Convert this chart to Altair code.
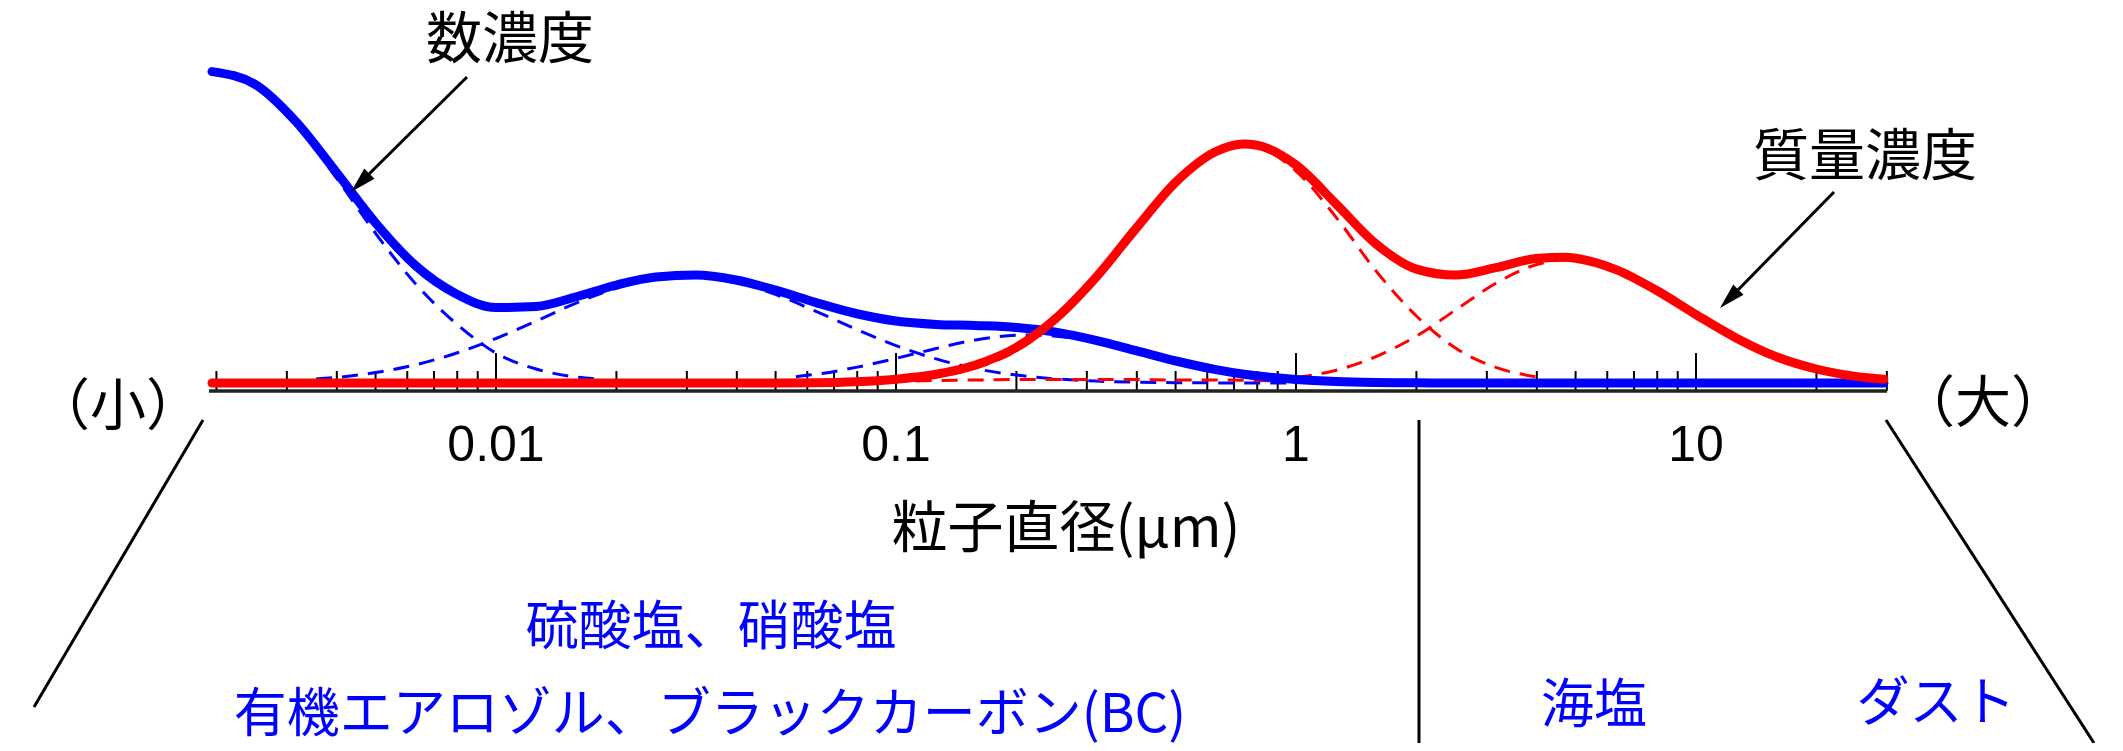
import altair as alt
import pandas as pd

CJK = "Noto Sans CJK JP"
LAT = "Liberation Sans"
BLUE = "#0000FF"
RED = "#FF0000"

# ---------------- data (diameter in um, relative concentration) ----------------
diam = [0.00195, 0.00251, 0.00316, 0.00398, 0.00501, 0.00631, 0.00794, 0.01, 0.0126, 0.0158,
        0.02, 0.0251, 0.0316, 0.0398, 0.0501, 0.0631, 0.0794, 0.1, 0.126, 0.158,
        0.2, 0.251, 0.316, 0.398, 0.501, 0.631, 0.741, 0.794, 1.0, 1.26,
        1.58, 2.0, 2.51, 3.16, 3.98, 4.73, 5.01, 6.31, 7.94, 10,
        12.6, 15.8, 20, 25.1, 29.5]
number_total = [311.4, 298.2, 261.5, 211.2, 159.7, 117.0, 89.3, 75.5, 76.5, 86.0,
                98.0, 106.0, 108.0, 103.0, 92.8, 80.4, 69.5, 62.0, 58.6, 57.5,
                55.6, 50.9, 42.7, 32.4, 22.0, 13.4, 8.8, 7.2, 3.5, 1.5,
                0.6, 0.2, 0, 0, 0, 0, 0, 0, 0, 0,
                0, 0, 0, 0, 0]
mass_total = [0, 0, 0, 0, 0, 0, 0, 0, 0, 0,
              0, 0, 0, 0, 0, 0.2, 1.2, 3.8, 8.7, 18.0,
              35.7, 64.6, 105.5, 154.5, 201.0, 231.5, 239.0, 238.0, 218.0, 179.0,
              139.5, 113.9, 107.9, 115.3, 124.5, 125.8, 124.7, 113.4, 93.0, 68.4,
              45.1, 26.6, 14.0, 6.6, 3.7]

# number-concentration modes (dashed blue)
nucl_d = [0.00195, 0.00251, 0.00316, 0.00398, 0.00501, 0.00631, 0.00794, 0.01, 0.0126, 0.0158, 0.0178]
nucl_v = [310.9, 297.0, 258.8, 205.7, 149.2, 98.7, 59.6, 30.0, 14.0, 6.0, 4.0]
aitk_d = [0.00355, 0.00398, 0.00501, 0.00631, 0.00794, 0.01, 0.0126, 0.0158, 0.02, 0.0251,
          0.0316, 0.0398, 0.0501, 0.0631, 0.0794, 0.1, 0.126, 0.158, 0.2, 0.251,
          0.316, 0.398, 0.501, 0.631, 0.794, 1.0]
aitk_v = [3.9, 5.5, 10.5, 18.3, 29.7, 44.5, 61.9, 79.6, 94.8, 104.6,
          106.9, 101.0, 88.4, 71.7, 53.9, 37.4, 24.1, 14.4, 7.9, 4.1,
          1.9, 0.8, 0.3, 0.1, 0, 0]
accn_d = [0.0562, 0.0631, 0.0794, 0.1, 0.126, 0.158, 0.2, 0.216, 0.251, 0.316,
          0.398, 0.501, 0.631, 0.794, 1.0, 1.26, 1.58, 2.0, 2.51]
accn_v = [6.3, 8.7, 15.6, 24.6, 34.5, 43.1, 47.7, 48.0, 46.8, 40.8,
          31.6, 21.7, 13.3, 7.2, 3.5, 1.5, 0.6, 0.2, 0]

# mass-concentration modes (dashed red)
smallm_d = [0.112, 0.126, 0.158, 0.2, 0.251, 0.316, 0.398, 0.501, 0.631, 0.794, 1.0]
smallm_v = [2, 2.5, 3, 3.5, 3.5, 3.5, 3.5, 3, 3, 2.5, 2]
accm_d = [0.1, 0.126, 0.158, 0.2, 0.251, 0.316, 0.398, 0.501, 0.631, 0.741,
          0.794, 1.0, 1.26, 1.58, 2.0, 2.51, 3.16, 3.98]
accm_v = [2.3, 6.2, 15.0, 32.2, 61.1, 102.5, 152.0, 199.2, 230.9, 238.0,
          236.5, 212.0, 165.6, 112.8, 67.0, 34.7, 15.6, 6.2]
coarse_d = [1.0, 1.26, 1.58, 2.0, 2.51, 3.16, 3.98, 4.73, 5.01, 6.31,
            7.94, 10, 12.6, 15.8, 20, 25.1, 29.5]
coarse_v = [5.4, 12.7, 26.2, 46.9, 73.2, 99.7, 118.3, 123.0, 122.6, 112.8,
            92.8, 68.4, 45.1, 26.6, 14.0, 6.6, 3.7]

minor_ticks = [0.002, 0.003, 0.004, 0.005, 0.006, 0.007, 0.008, 0.009,
               0.02, 0.03, 0.04, 0.05, 0.06, 0.07, 0.08, 0.09,
               0.2, 0.3, 0.4, 0.5, 0.6, 0.7, 0.8, 0.9,
               2, 3, 4, 5, 6, 7, 8, 9, 20, 30]
major_ticks = [0.01, 0.1, 1, 10]
tick_labels = ["0.01", "0.1", "1", "10"]

# ---------------- scales ----------------
xs = alt.Scale(type="log", domain=[0.00060256, 111.56], nice=False)
ys = alt.Scale(domain=[-360, 375], nice=False, zero=False)
X = lambda f: alt.X(f, scale=xs, axis=None)
Y = lambda f: alt.Y(f, scale=ys, axis=None)

one = alt.Data(values=[{}])


def series(d, v, name):
    return pd.DataFrame({"d": d, "v": v, "s": name})


solid = pd.DataFrame({"d": diam, "num": number_total, "mass": mass_total})
blue_modes = pd.concat([series(nucl_d, nucl_v, "nucleation"),
                        series(aitk_d, aitk_v, "aitken"),
                        series(accn_d, accn_v, "accumulation")])
red_modes = pd.concat([series(smallm_d, smallm_v, "small"),
                       series(accm_d, accm_v, "accumulation"),
                       series(coarse_d, coarse_v, "coarse")])

minor = alt.Chart(pd.DataFrame({"d": minor_ticks})).mark_rule(color="black", strokeWidth=2).encode(
    x=X("d:Q"), y=alt.value(383), y2=alt.value(363))
major = alt.Chart(pd.DataFrame({"d": major_ticks})).mark_rule(color="black", strokeWidth=2).encode(
    x=X("d:Q"), y=alt.value(383), y2=alt.value(345))
axis_line = alt.Chart(one).mark_rule(color="#222222", strokeWidth=3.5).encode(
    x=alt.value(201), x2=alt.value(1879), y=alt.value(383))
labels = alt.Chart(pd.DataFrame({"d": major_ticks, "t": tick_labels})).mark_text(
    font=LAT, fontSize=50, color="black", align="center", baseline="middle").encode(
    x=X("d:Q"), y=alt.value(438), text="t:N")

dash_blue = alt.Chart(blue_modes).mark_line(color=BLUE, strokeWidth=3, strokeDash=[16, 10],
                                            interpolate="monotone").encode(
    x=X("d:Q"), y=Y("v:Q"), detail="s:N")
dash_red = alt.Chart(red_modes).mark_line(color=RED, strokeWidth=3, strokeDash=[16, 10],
                                          interpolate="monotone").encode(
    x=X("d:Q"), y=Y("v:Q"), detail="s:N")
blue_line = alt.Chart(solid).mark_line(color=BLUE, strokeWidth=9, interpolate="monotone",
                                       strokeCap="round").encode(x=X("d:Q"), y=Y("num:Q"))
red_line = alt.Chart(solid).mark_line(color=RED, strokeWidth=9, interpolate="monotone",
                                      strokeCap="round").encode(x=X("d:Q"), y=Y("mass:Q"))


def text(t, x, y, size, color="black", font=CJK):
    return alt.Chart(one).mark_text(text=t, font=font, fontSize=size, color=color,
                                    align="center", baseline="middle").encode(
        x=alt.value(x), y=alt.value(y))


def seg(x1, y1, x2, y2, w=3):
    return alt.Chart(one).mark_rule(color="black", strokeWidth=w).encode(
        x=alt.value(x1), y=alt.value(y1), x2=alt.value(x2), y2=alt.value(y2))


HEAD = "M0,0L-0.5,1.8L0.5,1.8Z"


def head(x, y, ang):
    return alt.Chart(one).mark_point(shape=HEAD, size=835, filled=True, color="black",
                                     opacity=1, strokeWidth=0, angle=ang).encode(
        x=alt.value(x), y=alt.value(y))


annotations = [
    text("数濃度", 502, 33, 56),
    seg(459, 69, 358, 169), head(343, 184, 225),
    text("質量濃度", 1857, 150, 56),
    seg(1826, 184, 1727, 285), head(1712, 300, 225),
    text("（小）", 110, 400, 56),
    text("（大）", 1975, 397, 56),
    text("粒子直径(μm)", 1058, 522, 56),
    seg(195, 412, 26, 699),
    seg(1411, 412, 1411, 735),
    seg(1878, 412, 2086, 735),
    text("硫酸塩、硝酸塩", 703, 621, 53, BLUE),
    text("有機エアロゾル、ブラックカーボン(BC)", 702, 708, 53, BLUE),
    text("海塩", 1586, 699, 53, BLUE),
    text("ダスト", 1928, 697, 53, BLUE),
]

chart = alt.layer(minor, major, axis_line, labels, dash_blue, dash_red, blue_line, red_line,
                  *annotations).properties(
    width=2107, height=735, autosize=alt.AutoSizeParams(type="none"), padding=0,
    background="white").configure_view(strokeWidth=0)

chart.save("out.html", embed_options={"renderer": "svg", "actions": False})
